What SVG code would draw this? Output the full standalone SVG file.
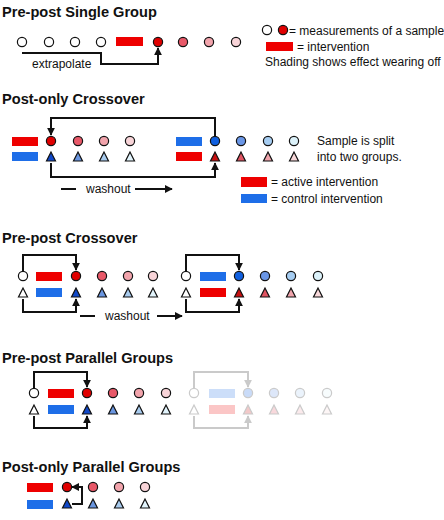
<svg xmlns="http://www.w3.org/2000/svg" width="444" height="520" viewBox="0 0 444 520">
<defs>
<style>
text{font-family:"Liberation Sans",Arial,sans-serif;fill:#111}
.t{font-size:14.6px;font-weight:bold}
.b{font-size:12px}
.c{stroke:#111;stroke-width:1.2}
.ln{fill:none;stroke:#111;stroke-width:2}
.r{fill:#ee0000}
.bl{fill:#1e6ee8}
.w{fill:#fff}
.r1{fill:#e00000}.r2{fill:#e85868}.r3{fill:#f2a4ac}.r4{fill:#f8d4d8}
.b1{fill:#1060e0}.b2{fill:#6a96e6}.b3{fill:#a6cdf2}.b4{fill:#dcf2fa}
.tb1{fill:#1048c8}.tb2{fill:#6a96e0}.tb3{fill:#a8cbee}.tb4{fill:#e2f4fc}
.tr1{fill:#c81010}.tr2{fill:#e05462}.tr3{fill:#f0a4ac}.tr4{fill:#f8d8da}
</style>
<marker id="ah" viewBox="0 0 10 10" refX="9" refY="5" markerWidth="8" markerHeight="8" markerUnits="userSpaceOnUse" orient="auto">
<path d="M0,0 L10,5 L0,10 Z" fill="#111"/>
</marker>
</defs>

<!-- Section 1: Pre-post Single Group -->
<text class="t" x="2" y="17">Pre-post Single Group</text>
<g id="s1-nodes">
<circle class="c w" cx="22" cy="42" r="4.6"/>
<circle class="c w" cx="49" cy="42" r="4.6"/>
<circle class="c w" cx="75" cy="42" r="4.6"/>
<circle class="c w" cx="101" cy="42" r="4.6"/>
<rect class="r" x="116" y="37" width="27" height="9"/>
<circle class="c r1" cx="158" cy="42" r="4.6"/>
<circle class="c r2" cx="183" cy="42" r="4.6"/>
<circle class="c r3" cx="209" cy="42" r="4.6"/>
<circle class="c r4" cx="236" cy="42" r="4.6"/>
</g>
<g id="s1-legend">
<circle class="c w" cx="267" cy="30" r="4.6"/>
<circle class="c r1" cx="283" cy="30" r="4.6"/>
<text class="b" x="289" y="35">= measurements of a sample</text>
<rect class="r" x="266" y="42" width="27" height="9"/>
<text class="b" x="297" y="51">= intervention</text>
<text class="b" x="265" y="66">Shading shows effect wearing off</text>
</g>
<g id="s1-connectors">
<path class="ln" d="M22,53 H101 V64 H158 V48" marker-end="url(#ah)"/>
<text class="b" x="32" y="68">extrapolate</text>
</g>

<!-- Section 2: Post-only Crossover -->
<text class="t" x="2" y="104">Post-only Crossover</text>
<g id="s2-nodes">
<rect class="r" x="12" y="137" width="26" height="9"/>
<rect class="bl" x="12" y="152" width="26" height="9"/>
<circle class="c r1" cx="51" cy="141" r="4.6"/>
<circle class="c r2" cx="78" cy="141" r="4.6"/>
<circle class="c r3" cx="104" cy="141" r="4.6"/>
<circle class="c r4" cx="130" cy="141" r="4.6"/>
<polygon class="c tb1" points="51,152 46.5,161 55.5,161"/>
<polygon class="c tb2" points="78,152 73.5,161 82.5,161"/>
<polygon class="c tb3" points="104,152 99.5,161 108.5,161"/>
<polygon class="c tb4" points="130,152 125.5,161 134.5,161"/>
<rect class="bl" x="176" y="137" width="26" height="9"/>
<rect class="r" x="176" y="152" width="26" height="9"/>
<circle class="c b1" cx="215" cy="141" r="4.6"/>
<circle class="c b2" cx="241" cy="141" r="4.6"/>
<circle class="c b3" cx="268" cy="141" r="4.6"/>
<circle class="c b4" cx="294" cy="141" r="4.6"/>
<polygon class="c tr1" points="215,152 210.5,161 219.5,161"/>
<polygon class="c tr2" points="241,152 236.5,161 245.5,161"/>
<polygon class="c tr3" points="268,152 263.5,161 272.5,161"/>
<polygon class="c tr4" points="294,152 289.5,161 298.5,161"/>
</g>
<g id="s2-legend">
<text class="b" x="317" y="145">Sample is split</text>
<text class="b" x="317" y="161">into two groups.</text>
<rect class="r" x="241" y="177" width="26" height="10"/>
<text class="b" x="271" y="186">= active intervention</text>
<rect class="bl" x="241" y="194" width="26" height="9"/>
<text class="b" x="271" y="203">= control intervention</text>
</g>
<g id="s2-connectors">
<path class="ln" d="M215,136 V118 H51 V135" marker-end="url(#ah)"/>
<path class="ln" d="M51,163 V177 H215 V163" marker-end="url(#ah)"/>
<line class="ln" x1="61" y1="189" x2="76" y2="189"/>
<text class="b" x="86" y="193">washout</text>
<line class="ln" x1="135" y1="189" x2="172" y2="189" marker-end="url(#ah)"/>
</g>

<!-- Section 3: Pre-post Crossover -->
<text class="t" x="2" y="243">Pre-post Crossover</text>
<g id="s3-nodes">
<circle class="c w" cx="23" cy="276" r="4.6"/>
<rect class="r" x="36" y="272" width="26" height="9"/>
<circle class="c r1" cx="76" cy="276" r="4.6"/>
<circle class="c r2" cx="102" cy="276" r="4.6"/>
<circle class="c r3" cx="128" cy="276" r="4.6"/>
<circle class="c r4" cx="153" cy="276" r="4.6"/>
<polygon class="c w" points="23,288 18.5,297 27.5,297"/>
<rect class="bl" x="36" y="288" width="26" height="9"/>
<polygon class="c tb1" points="76,288 71.5,297 80.5,297"/>
<polygon class="c tb2" points="102,288 97.5,297 106.5,297"/>
<polygon class="c tb3" points="128,288 123.5,297 132.5,297"/>
<polygon class="c tb4" points="153,288 148.5,297 157.5,297"/>
<circle class="c w" cx="186" cy="276" r="4.6"/>
<rect class="bl" x="200" y="272" width="26" height="9"/>
<circle class="c b1" cx="239" cy="276" r="4.6"/>
<circle class="c b2" cx="265" cy="276" r="4.6"/>
<circle class="c b3" cx="291" cy="276" r="4.6"/>
<circle class="c b4" cx="318" cy="276" r="4.6"/>
<polygon class="c w" points="186,288 181.5,297 190.5,297"/>
<rect class="r" x="200" y="288" width="26" height="9"/>
<polygon class="c tr1" points="239,288 234.5,297 243.5,297"/>
<polygon class="c tr2" points="265,288 260.5,297 269.5,297"/>
<polygon class="c tr3" points="291,288 286.5,297 295.5,297"/>
<polygon class="c tr4" points="318,288 313.5,297 322.5,297"/>
</g>
<g id="s3-connectors">
<path class="ln" d="M23,271 V255 H76 V270" marker-end="url(#ah)"/>
<path class="ln" d="M23,299 V312 H76 V299" marker-end="url(#ah)"/>
<path class="ln" d="M186,271 V255 H239 V270" marker-end="url(#ah)"/>
<path class="ln" d="M186,299 V312 H239 V299" marker-end="url(#ah)"/>
<line class="ln" x1="80" y1="316" x2="95" y2="316"/>
<text class="b" x="105" y="320">washout</text>
<line class="ln" x1="157" y1="316" x2="182" y2="316" marker-end="url(#ah)"/>
</g>

<!-- Section 4: Pre-post Parallel Groups -->
<text class="t" x="2" y="363">Pre-post Parallel Groups</text>
<g id="s4-nodes">
<circle class="c w" cx="34" cy="393" r="4.6"/>
<rect class="r" x="48" y="389" width="26" height="9"/>
<circle class="c r1" cx="87" cy="393" r="4.6"/>
<circle class="c r2" cx="113" cy="393" r="4.6"/>
<circle class="c r3" cx="139" cy="393" r="4.6"/>
<circle class="c r4" cx="166" cy="393" r="4.6"/>
<polygon class="c w" points="34,405 29.5,414 38.5,414"/>
<rect class="bl" x="48" y="405" width="26" height="9"/>
<polygon class="c tb1" points="87,405 82.5,414 91.5,414"/>
<polygon class="c tb2" points="113,405 108.5,414 117.5,414"/>
<polygon class="c tb3" points="139,405 134.5,414 143.5,414"/>
<polygon class="c tb4" points="166,405 161.5,414 170.5,414"/>
</g>
<g id="s4-connectors">
<path class="ln" d="M34,388 V372 H87 V387" marker-end="url(#ah)"/>
<path class="ln" d="M34,416 V428 H87 V416" marker-end="url(#ah)"/>
</g>
<g id="s4-faded" opacity="0.22">
<circle class="c w" cx="194" cy="393" r="4.6"/>
<rect class="bl" x="209" y="389" width="26" height="9"/>
<circle class="c b1" cx="248" cy="393" r="4.6"/>
<circle class="c b2" cx="274" cy="393" r="4.6"/>
<circle class="c b3" cx="300" cy="393" r="4.6"/>
<circle class="c b4" cx="327" cy="393" r="4.6"/>
<polygon class="c w" points="194,405 189.5,414 198.5,414"/>
<rect class="r" x="209" y="405" width="26" height="9"/>
<polygon class="c tr1" points="248,405 243.5,414 252.5,414"/>
<polygon class="c tr2" points="274,405 269.5,414 278.5,414"/>
<polygon class="c tr3" points="300,405 295.5,414 304.5,414"/>
<polygon class="c tr4" points="327,405 322.5,414 331.5,414"/>
<path class="ln" d="M194,388 V372 H248 V387" marker-end="url(#ah)"/>
<path class="ln" d="M194,416 V428 H248 V416" marker-end="url(#ah)"/>
</g>

<!-- Section 5: Post-only Parallel Groups -->
<text class="t" x="2" y="472">Post-only Parallel Groups</text>
<g id="s5-nodes">
<rect class="r" x="27" y="483" width="26" height="9"/>
<rect class="bl" x="27" y="500" width="26" height="9"/>
<circle class="c r1" cx="67" cy="487" r="4.6"/>
<circle class="c r2" cx="93" cy="487" r="4.6"/>
<circle class="c r3" cx="119" cy="487" r="4.6"/>
<circle class="c r4" cx="145" cy="487" r="4.6"/>
<polygon class="c tb1" points="67,499 62.5,508 71.5,508"/>
<polygon class="c tb2" points="93,499 88.5,508 97.5,508"/>
<polygon class="c tb3" points="119,499 114.5,508 123.5,508"/>
<polygon class="c tb4" points="145,499 140.5,508 149.5,508"/>
</g>
<g id="s5-connectors">
<path class="ln" d="M72,504 H82 V487 H72" marker-end="url(#ah)"/>
</g>
</svg>
